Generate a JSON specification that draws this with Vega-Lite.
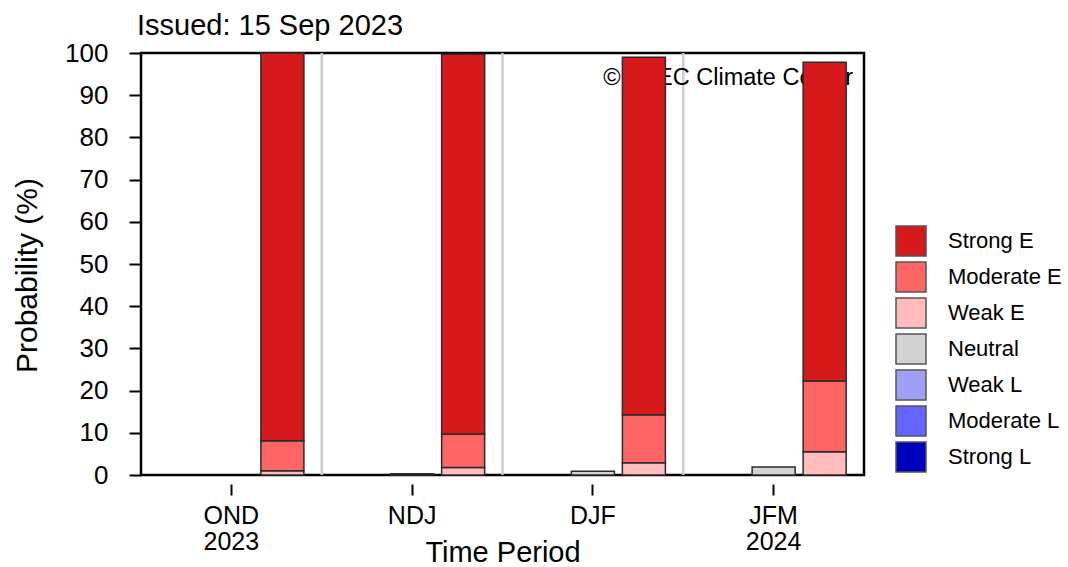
{
  "$schema": "https://vega.github.io/schema/vega-lite/v6.json",
  "width": 723,
  "height": 422,
  "autosize": {"type": "none"},
  "padding": {"left": 141, "top": 53, "right": 204, "bottom": 92},
  "background": "white",
  "config": {
    "font": "Liberation Sans",
    "view": {"stroke": "black", "strokeWidth": 2.5}
  },
  "title": {
    "text": "Issued: 15 Sep 2023",
    "anchor": "start",
    "frame": "group",
    "fontSize": 29,
    "fontWeight": "normal",
    "color": "black",
    "baseline": "alphabetic",
    "offset": -24,
    "dx": -4
  },
  "layer": [
    {
      "data": {"values": [{"period": "NDJ"}, {"period": "DJF"}, {"period": "JFM 2024"}]},
      "mark": {"type": "rule", "color": "#cccccc", "strokeWidth": 2.5},
      "encoding": {
        "x": {
          "field": "period",
          "type": "nominal",
          "title": "Time Period",
          "bandPosition": 0,
          "scale": {"domain": ["OND 2023", "NDJ", "DJF", "JFM 2024"], "paddingInner": 0, "paddingOuter": 0}
        }
      }
    },
    {
      "data": {"values": [{"period": "JFM 2024", "prob": 94.0, "label": "© APEC Climate Center"}]},
      "mark": {"type": "text", "align": "right", "baseline": "middle", "fontSize": 23.5, "color": "black", "dx": -11},
      "encoding": {
        "x": {"field": "period", "type": "nominal", "title": "Time Period", "bandPosition": 1},
        "y": {"field": "prob", "type": "quantitative", "title": "Probability (%)"},
        "text": {"field": "label"}
      }
    },
    {
      "data": {
        "values": [
          {"period": "OND 2023", "phase": "El Niño", "category": "Weak E", "strength": 1, "prob": 1.0},
          {"period": "OND 2023", "phase": "El Niño", "category": "Moderate E", "strength": 2, "prob": 7.1},
          {"period": "OND 2023", "phase": "El Niño", "category": "Strong E", "strength": 3, "prob": 91.9},
          {"period": "NDJ", "phase": "Neutral", "category": "Neutral", "strength": 0, "prob": 0.3},
          {"period": "NDJ", "phase": "El Niño", "category": "Weak E", "strength": 1, "prob": 1.8},
          {"period": "NDJ", "phase": "El Niño", "category": "Moderate E", "strength": 2, "prob": 7.9},
          {"period": "NDJ", "phase": "El Niño", "category": "Strong E", "strength": 3, "prob": 90.0},
          {"period": "DJF", "phase": "Neutral", "category": "Neutral", "strength": 0, "prob": 0.9},
          {"period": "DJF", "phase": "El Niño", "category": "Weak E", "strength": 1, "prob": 2.9},
          {"period": "DJF", "phase": "El Niño", "category": "Moderate E", "strength": 2, "prob": 11.4},
          {"period": "DJF", "phase": "El Niño", "category": "Strong E", "strength": 3, "prob": 84.7},
          {"period": "JFM 2024", "phase": "Neutral", "category": "Neutral", "strength": 0, "prob": 1.9},
          {"period": "JFM 2024", "phase": "El Niño", "category": "Weak E", "strength": 1, "prob": 5.5},
          {"period": "JFM 2024", "phase": "El Niño", "category": "Moderate E", "strength": 2, "prob": 16.8},
          {"period": "JFM 2024", "phase": "El Niño", "category": "Strong E", "strength": 3, "prob": 75.5}
        ]
      },
      "mark": {"type": "bar", "stroke": "#2b2b2b", "strokeWidth": 1.5},
      "encoding": {
        "x": {
          "field": "period",
          "type": "nominal",
          "sort": null,
          "title": "Time Period",
          "axis": {
            "title": "Time Period",
            "titleFontSize": 29,
            "titleFontWeight": "normal",
            "titleColor": "black",
            "titlePadding": -16,
            "labelFontSize": 25,
            "labelColor": "black",
            "labelAngle": 0,
            "labelAlign": "center",
            "labelBaseline": "top",
            "labelExpr": "split(datum.label, ' ')",
            "labelLineHeight": 26,
            "labelPadding": 8,
            "tickSize": 11,
            "tickWidth": 2,
            "tickColor": "black",
            "offset": 9,
            "domain": false,
            "grid": false
          }
        },
        "xOffset": {
          "field": "phase",
          "type": "nominal",
          "scale": {"domain": ["La Niña", "Neutral", "El Niño"], "paddingInner": 0.157, "paddingOuter": 0.35}
        },
        "y": {
          "field": "prob",
          "type": "quantitative",
          "stack": "zero",
          "title": "Probability (%)",
          "scale": {"domain": [0, 100], "nice": false},
          "axis": {
            "title": "Probability (%)",
            "titleFontSize": 30,
            "titleFontWeight": "normal",
            "titleColor": "black",
            "titlePadding": 22,
            "titleY": 222,
            "labelFontSize": 26,
            "labelColor": "black",
            "labelPadding": 21,
            "tickSize": 12,
            "tickWidth": 2,
            "tickColor": "black",
            "values": [0, 10, 20, 30, 40, 50, 60, 70, 80, 90, 100],
            "domain": false,
            "grid": false
          }
        },
        "color": {
          "field": "category",
          "type": "nominal",
          "scale": {
            "domain": ["Strong E", "Moderate E", "Weak E", "Neutral", "Weak L", "Moderate L", "Strong L"],
            "range": ["#d61a1c", "#fd6464", "#ffbcbc", "#d3d3d3", "#a0a0f8", "#6464ff", "#0000c0"]
          },
          "legend": {
            "title": null,
            "orient": "none",
            "legendX": 754,
            "legendY": 172,
            "padding": 0,
            "symbolType": "square",
            "symbolSize": 900,
            "symbolStrokeColor": "#555555",
            "symbolStrokeWidth": 1.5,
            "symbolOpacity": 1,
            "labelFontSize": 22,
            "labelColor": "black",
            "labelOffset": 21,
            "rowPadding": 0
          }
        },
        "order": {"field": "strength", "type": "quantitative", "sort": "ascending"}
      }
    }
  ]
}
